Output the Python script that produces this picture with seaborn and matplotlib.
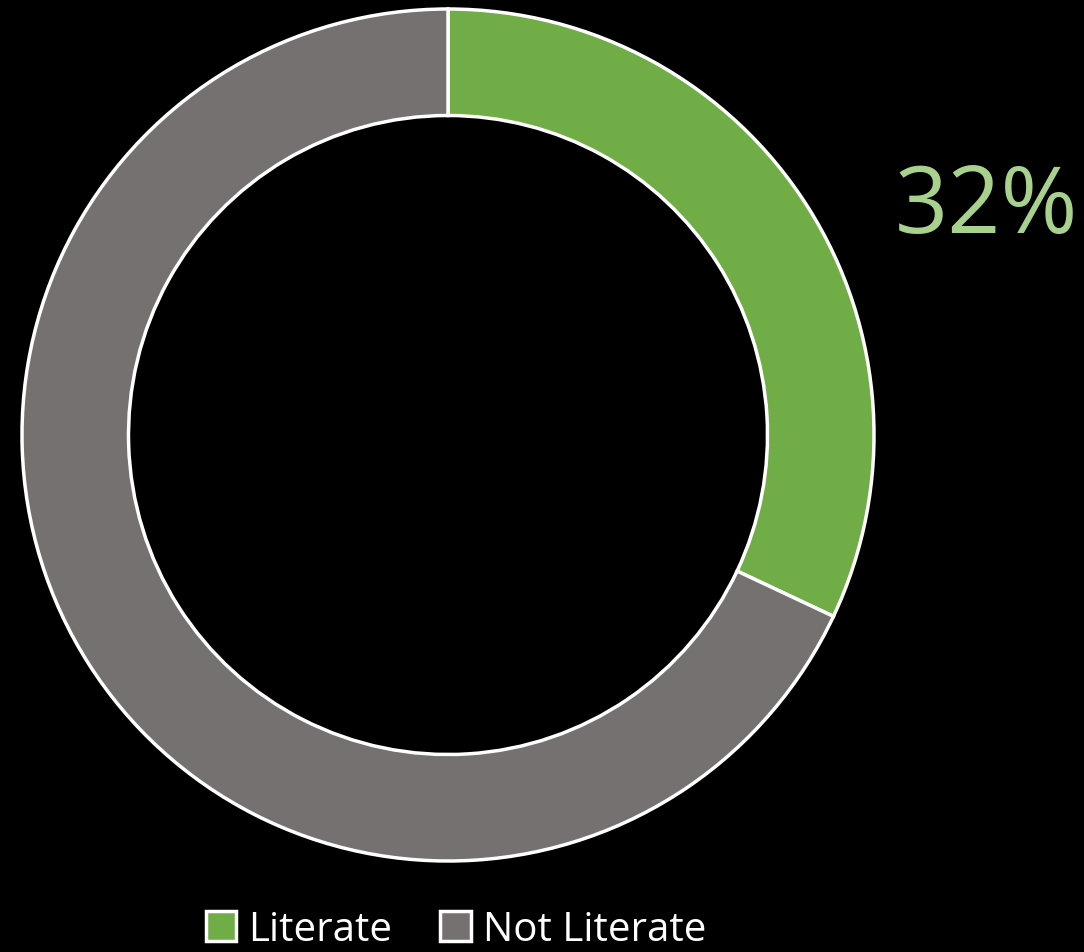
import matplotlib
matplotlib.use("Agg")
import matplotlib.pyplot as plt
import seaborn as sns

# Data
labels = ["Literate", "Not Literate"]
shares = [32, 68]
colors = ["#70AD47", "#767171"]
label_text = "32%"

sns.set_theme(style="white")
plt.rcParams["font.family"] = ["Open Sans", "DejaVu Sans"]

fig = plt.figure(figsize=(10.84, 9.53), dpi=100, facecolor="black")
ax = fig.add_axes([22 / 1084, 91 / 953, 852 / 1084, 852 / 953])
ax.set_facecolor("black")

wedges, _ = ax.pie(
    shares,
    colors=colors,
    startangle=90,
    counterclock=False,
    radius=1.0,
    wedgeprops=dict(width=0.25, edgecolor="white", linewidth=2.5),
)
ax.set_xlim(-1, 1)
ax.set_ylim(-1, 1)
ax.set_aspect("equal")
ax.axis("off")

# Data label for the green slice
ax.text(1.265, 0.533, label_text, color="#A9D18E", fontsize=67,
        ha="center", va="center", clip_on=False)

leg = fig.legend(
    wedges, labels,
    loc="center", bbox_to_anchor=(456 / 1084, 1 - 931 / 953),
    ncol=2, frameon=False, fontsize=29, labelcolor="white",
    handlelength=0.75, handleheight=0.75, handletextpad=0.3, columnspacing=1.2,
)
for h in leg.legend_handles:
    h.set_edgecolor("white")
    h.set_linewidth(2.5)

fig.savefig("out.png", dpi=100, facecolor="black")
